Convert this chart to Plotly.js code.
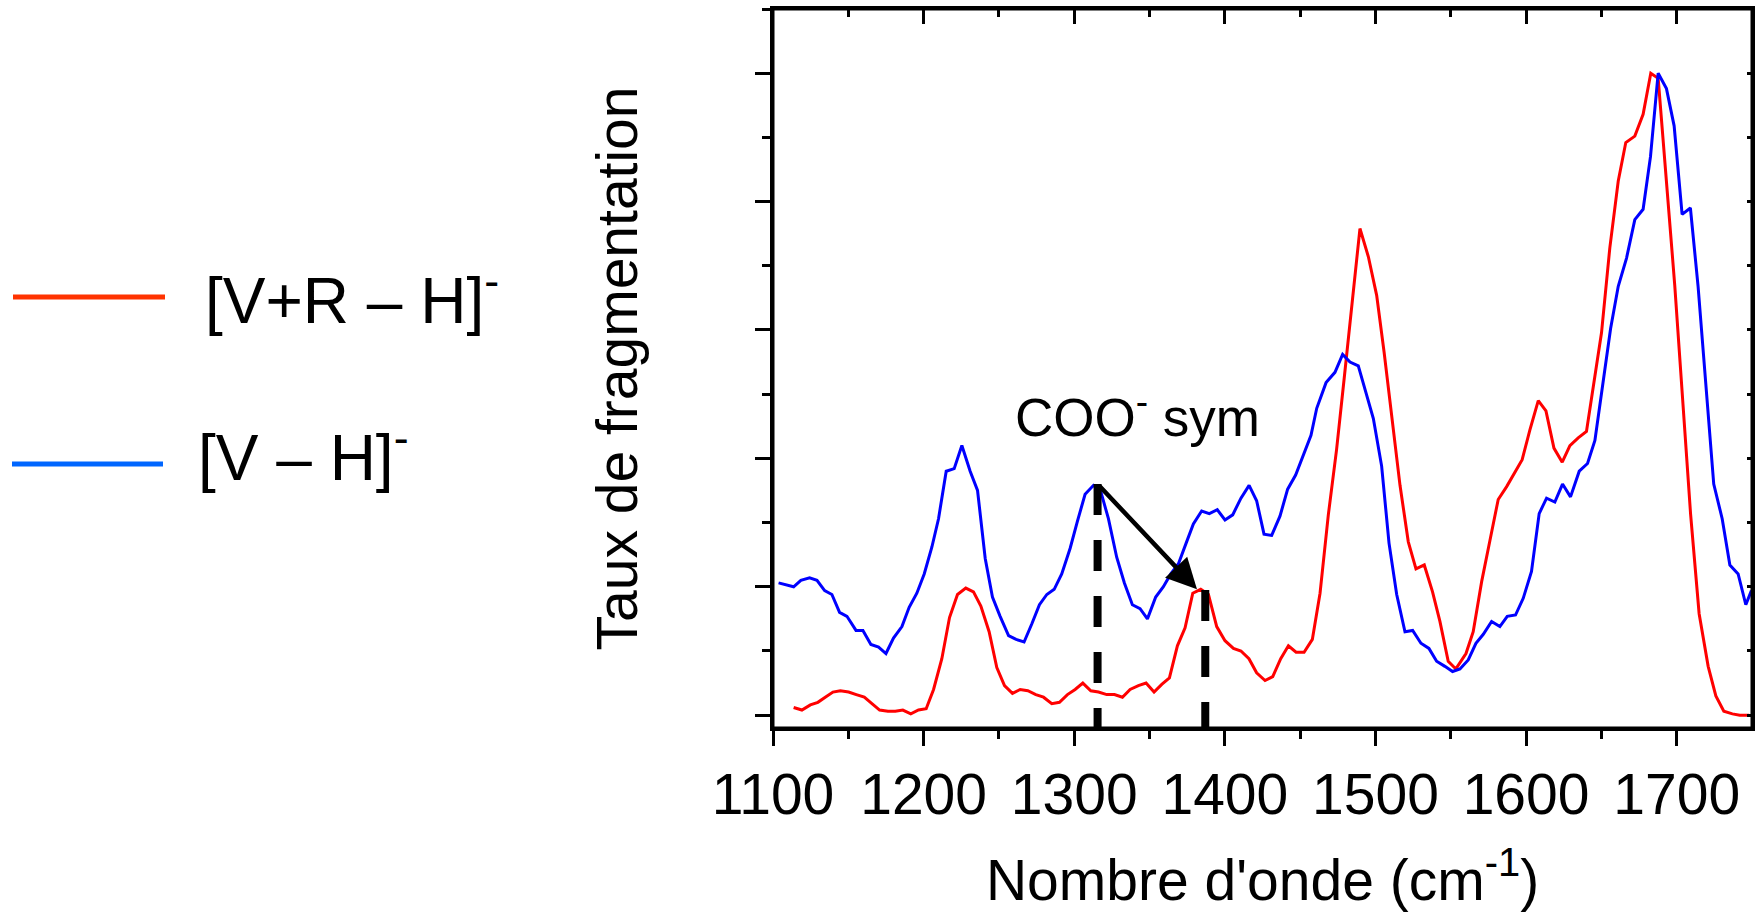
<!DOCTYPE html>
<html>
<head>
<meta charset="utf-8">
<script src="https://cdn.plot.ly/plotly-3.0.1.min.js"></script>
<style>html,body{margin:0;padding:0;background:#fff;overflow:hidden;}#chart{width:1761px;height:912px;}</style>
</head>
<body>
<div id="chart"></div>
<script>
// Blue series: [V – H]-
const blueWavenumber = [1103.7,1109.3,1113.7,1118.5,1124.3,1129.2,1134.3,1139.1,1144.2,1149.1,1155.1,1159.7,1165.0,1170.1,1175.0,1180.0,1185.6,1190.4,1195.5,1200.4,1205.5,1209.9,1215.0,1220.3,1225.4,1230.9,1235.8,1240.9,1245.7,1250.8,1256.4,1261.4,1266.7,1271.8,1276.9,1281.8,1286.7,1291.7,1297.3,1302.1,1307.2,1312.8,1317.2,1322.7,1328.2,1333.3,1338.6,1343.7,1348.6,1354.1,1359.2,1364.1,1369.2,1374.3,1379.1,1384.6,1389.7,1395.0,1400.1,1405.2,1410.7,1416.1,1421.1,1426.0,1431.1,1436.6,1441.7,1447.0,1452.1,1457.2,1461.0,1467.2,1473.1,1478.2,1483.1,1488.6,1494.2,1498.6,1504.1,1509.0,1514.1,1519.6,1524.7,1530.2,1535.5,1540.6,1546.1,1551.2,1556.1,1561.6,1566.7,1571.6,1577.1,1582.6,1587.5,1593.0,1598.1,1603.6,1608.7,1613.6,1619.1,1624.2,1629.5,1635.3,1640.8,1645.7,1656.1,1661.2,1666.7,1672.2,1677.7,1682.6,1687.7,1693.2,1698.3,1703.6,1709.1,1714.2,1724.6,1730.2,1735.3,1740.8,1745.9,1749.6];
const blueValues = [1.03,1.01,1.00,1.05,1.07,1.05,0.97,0.94,0.80,0.77,0.66,0.66,0.55,0.53,0.48,0.60,0.69,0.84,0.95,1.10,1.31,1.53,1.90,1.92,2.10,1.90,1.75,1.22,0.92,0.77,0.62,0.59,0.57,0.71,0.86,0.94,0.98,1.10,1.30,1.51,1.72,1.79,1.76,1.53,1.23,1.03,0.86,0.83,0.75,0.92,1.00,1.10,1.18,1.34,1.49,1.59,1.57,1.60,1.52,1.56,1.69,1.79,1.67,1.41,1.40,1.55,1.76,1.87,2.03,2.18,2.39,2.59,2.67,2.81,2.75,2.72,2.49,2.31,1.94,1.34,0.94,0.65,0.66,0.56,0.52,0.42,0.38,0.34,0.36,0.43,0.56,0.63,0.73,0.69,0.77,0.78,0.91,1.12,1.57,1.69,1.66,1.80,1.70,1.90,1.96,2.14,3.01,3.34,3.56,3.86,3.94,4.35,5.00,4.88,4.59,3.90,3.95,3.34,1.80,1.53,1.17,1.10,0.86,0.97];

// Red series: [V+R – H]-
const redWavenumber = [1113.7,1119.2,1124.8,1129.8,1134.7,1139.8,1144.7,1150.2,1155.3,1160.6,1165.7,1170.8,1176.3,1181.2,1186.2,1191.5,1196.6,1201.7,1206.6,1212.1,1217.2,1222.5,1228.0,1233.1,1238.0,1243.5,1248.6,1253.7,1259.0,1264.1,1269.2,1274.5,1279.6,1285.1,1290.2,1295.5,1300.6,1305.7,1311.0,1316.1,1321.6,1326.7,1332.0,1337.1,1342.6,1347.7,1353.0,1358.1,1363.2,1368.5,1373.6,1378.7,1384.0,1389.1,1394.6,1400.1,1405.7,1410.7,1416.0,1421.1,1426.7,1431.8,1437.1,1442.2,1447.3,1452.6,1458.1,1463.2,1468.7,1474.2,1479.3,1484.4,1489.7,1495.3,1500.8,1505.7,1516.3,1521.8,1526.9,1532.4,1537.9,1542.8,1548.3,1553.4,1560.1,1564.9,1570.5,1576.0,1581.5,1587.1,1592.0,1597.4,1602.5,1608.1,1613.2,1618.5,1624.0,1629.1,1634.6,1640.1,1650.1,1655.6,1661.2,1666.2,1672.2,1677.7,1682.8,1687.7,1698.7,1709.2,1714.9,1720.9,1726.0,1731.3,1737.0,1741.9,1748.1];
const redValues = [0.06,0.04,0.08,0.10,0.14,0.18,0.19,0.18,0.16,0.14,0.09,0.04,0.03,0.03,0.04,0.01,0.04,0.05,0.20,0.44,0.76,0.94,0.99,0.96,0.85,0.65,0.37,0.23,0.17,0.20,0.19,0.16,0.14,0.09,0.10,0.16,0.20,0.25,0.19,0.18,0.16,0.16,0.14,0.20,0.23,0.25,0.18,0.24,0.29,0.54,0.68,0.95,0.98,0.94,0.69,0.58,0.52,0.50,0.44,0.33,0.27,0.30,0.44,0.54,0.49,0.49,0.59,0.95,1.56,2.07,2.63,3.20,3.79,3.57,3.27,2.83,1.79,1.35,1.14,1.17,0.96,0.73,0.42,0.36,0.48,0.65,1.04,1.36,1.68,1.78,1.88,1.99,2.22,2.45,2.37,2.08,1.97,2.10,2.16,2.21,2.98,3.64,4.16,4.46,4.51,4.68,5.00,4.96,3.35,1.57,0.79,0.38,0.15,0.03,0.01,0.00,0.00];

// Axis ticks
const xTickValues = [1100,1200,1300,1400,1500,1600,1700];
const xTickLabels = ["1100","1200","1300","1400","1500","1600","1700"];
const xMinorTickValues = [1150,1250,1350,1450,1550,1650];

// Series labels and annotation text
const seriesNames = ["[V+R \u2013 H]<sup>-</sup>", "[V \u2013 H]<sup>-</sup>"];
const peakLabel = "COO<sup>-</sup> sym";
const peakFrom = {x: 1315.5, y: 1.80};   // [V – H]- band
const peakTo = {x: 1387.0, y: 0.98};     // [V+R – H]- band

const FONT = "Liberation Sans, Arial, Helvetica, sans-serif";
const X_RANGE = [1100, 1750];
const Y_RANGE = [-0.1, 5.5];

const traces = [
  {x: redWavenumber, y: redValues, type: "scatter", mode: "lines", name: seriesNames[0],
   line: {color: "#ff0000", width: 3}, showlegend: false, hoverinfo: "x+y"},
  // blue series on the mirrored (top/right) axes, which share exactly the same ranges
  {x: blueWavenumber, y: blueValues, type: "scatter", mode: "lines", name: seriesNames[1],
   xaxis: "x2", yaxis: "y2",
   line: {color: "#0000ff", width: 3}, showlegend: false, hoverinfo: "x+y"}
];

const W = 1761, H = 912;
const mL = 773, mR = 9, mT = 9, mB = 184;
const pw = W - mL - mR, ph = H - mT - mB;
const px = v => (v - mL) / pw;          // pixel -> paper x
const py = v => (H - mB - v) / ph;      // pixel -> paper y

const layout = {
  width: W, height: H,
  margin: {l: mL, r: mR, t: mT, b: mB, pad: 0},
  paper_bgcolor: "#ffffff", plot_bgcolor: "#ffffff",
  font: {family: FONT, color: "#000000"},
  showlegend: false,
  xaxis: {
    range: X_RANGE, showgrid: false, zeroline: false,
    showline: true, linecolor: "#000", linewidth: 3,
    tickmode: "array", tickvals: xTickValues, ticktext: xTickLabels,
    ticks: "outside", ticklen: 15, tickwidth: 3, tickcolor: "#000",
    minor: {tickmode: "array", tickvals: xMinorTickValues, ticks: "outside", ticklen: 8, tickwidth: 3, tickcolor: "#000", showgrid: false},
    tickfont: {family: FONT, size: 57, color: "#000"},
    title: {text: "Nombre d'onde (cm<sup>-1</sup>)", font: {family: FONT, size: 57, color: "#000"}, standoff: 40}
  },
  xaxis2: {
    range: X_RANGE, overlaying: "x", side: "top", anchor: "y2",
    showgrid: false, zeroline: false, showline: true, linecolor: "#000", linewidth: 3,
    tickmode: "array", tickvals: xTickValues, showticklabels: false,
    ticks: "inside", ticklen: 15, tickwidth: 3, tickcolor: "#000",
    minor: {tickmode: "array", tickvals: xMinorTickValues, ticks: "inside", ticklen: 8, tickwidth: 3, tickcolor: "#000", showgrid: false}
  },
  yaxis: {
    range: Y_RANGE, showgrid: false, zeroline: false,
    showline: true, linecolor: "#000", linewidth: 3,
    tick0: 0, dtick: 1, showticklabels: false,
    ticks: "outside", ticklen: 15, tickwidth: 3, tickcolor: "#000",
    minor: {dtick: 0.5, tick0: 0, ticks: "outside", ticklen: 8, tickwidth: 3, tickcolor: "#000", showgrid: false},
    title: {text: "Taux de fragmentation", font: {family: FONT, size: 57, color: "#000"}, standoff: 100}
  },
  yaxis2: {
    range: Y_RANGE, overlaying: "y", side: "right", anchor: "x2",
    showgrid: false, zeroline: false, showline: true, linecolor: "#000", linewidth: 3,
    tick0: 0, dtick: 0.5, showticklabels: false,
    ticks: "inside", ticklen: 5, tickwidth: 3, tickcolor: "#000"
  },
  shapes: [
    // frame box around the plot area
    {type: "rect", xref: "paper", yref: "paper", x0: 0, x1: 1, y0: 0, y1: 1,
     line: {color: "#000", width: 3}, layer: "above"},
    // dashed markers under the two COO- sym bands
    {type: "line", xref: "x", yref: "y", x0: peakFrom.x, x1: peakFrom.x, y0: peakFrom.y, y1: -0.1,
     line: {color: "#000", width: 8, dash: "31px,25px"}},
    {type: "line", xref: "x", yref: "y", x0: peakTo.x, x1: peakTo.x, y0: 0.975, y1: -0.1,
     line: {color: "#000", width: 8, dash: "31px,25px"}},
    // legend line samples
    {type: "line", xref: "paper", yref: "paper", x0: px(13), x1: px(165), y0: py(297), y1: py(297),
     line: {color: "#ff3300", width: 5}},
    {type: "line", xref: "paper", yref: "paper", x0: px(12), x1: px(163), y0: py(464), y1: py(464),
     line: {color: "#0066ff", width: 5}}
  ],
  annotations: [
    {xref: "paper", yref: "paper", x: px(203), y: py(296), xanchor: "left", yanchor: "middle",
     text: seriesNames[0], showarrow: false, font: {family: FONT, size: 64, color: "#000"}},
    {xref: "paper", yref: "paper", x: px(196), y: py(453), xanchor: "left", yanchor: "middle",
     text: seriesNames[1], showarrow: false, font: {family: FONT, size: 64, color: "#000"}},
    {xref: "x", yref: "y", x: 1342, y: 2.35, xanchor: "center", yanchor: "middle",
     text: peakLabel, showarrow: false, font: {family: FONT, size: 53, color: "#000"}},
    {xref: "x", yref: "y", x: 1381.5, y: 0.98, axref: "x", ayref: "y", ax: peakFrom.x, ay: peakFrom.y,
     text: "", showarrow: true, arrowhead: 2, arrowsize: 1.35, arrowwidth: 4.5, arrowcolor: "#000", standoff: 0}
  ]
};

Plotly.newPlot("chart", traces, layout, {displayModeBar: false, staticPlot: true});
</script>
</body>
</html>
